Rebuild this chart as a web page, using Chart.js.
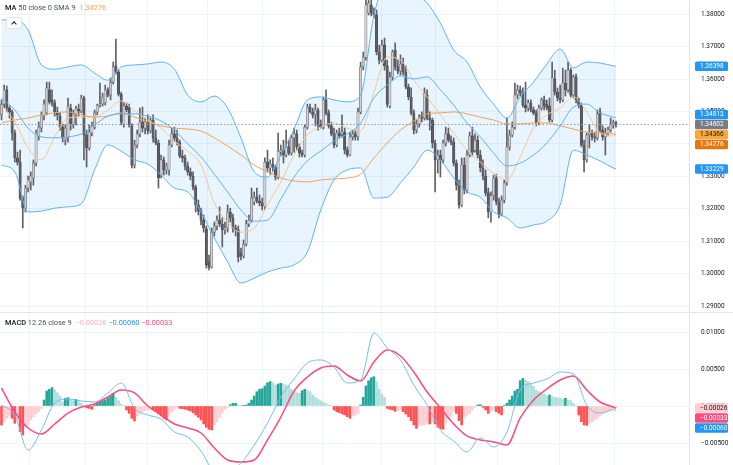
<!DOCTYPE html>
<html><head><meta charset="utf-8">
<script src="https://cdn.jsdelivr.net/npm/chart.js@4.4.1/dist/chart.umd.min.js"></script>
<style>
html,body{margin:0;padding:0;background:#fff;}
#wrap{position:relative;width:733px;height:465px;overflow:hidden;font-family:Roboto,"Liberation Sans",sans-serif;}
#main{position:absolute;left:0;top:0;width:733px;height:312px;}
#macd{position:absolute;left:0;top:313px;width:733px;height:152px;}
#sep{position:absolute;left:0;top:312px;width:733px;height:1px;background:#e0e3eb;}
.leg{position:absolute;left:5px;font-size:7.4px;line-height:10px;color:#4a4d57;white-space:nowrap;}
.leg b{color:#131722;font-weight:500;}
#btn{position:absolute;left:6px;top:17px;width:14px;height:10px;border:1px solid #e0e3eb;border-radius:2px;background:#fff;}
#btn:after{content:"";position:absolute;left:5px;top:4px;width:3px;height:3px;border-left:1px solid #131722;border-top:1px solid #131722;transform:rotate(45deg);}
</style></head>
<body>
<div id="wrap">
  <div id="main"><canvas id="cMain"></canvas></div>
  <div id="sep"></div>
  <div id="macd"><canvas id="cMacd"></canvas></div>
  <div class="leg" style="top:3px"><b>MA</b> 50 close 0 SMA 9 &nbsp;<span style="color:#f4a35a">1.34276</span></div>
  <div id="btn"></div>
  <div class="leg" style="top:318px"><b>MACD</b> 12 26 close 9 &nbsp;<span style="color:#f7b3c2">−0.00026</span> <span style="color:#2196f3">−0.00060</span> <span style="color:#ff4a7d">−0.00033</span></div>
</div>
<script>
// ---------- DATA ----------
const candleOpen = [
1.3490,1.3523,1.3567,1.3511,1.3499,1.3434,1.3357,1.3344,1.3233,1.3202,
1.3264,1.3283,1.3295,1.3341,1.3422,1.3449,1.3486,1.3496,1.3567,1.3536,
1.3527,1.3499,1.3486,1.3452,1.3412,1.3419,1.3511,1.3459,1.3490,1.3508,
1.3502,1.3542,1.3428,1.3388,1.3434,1.3452,1.3499,1.3520,1.3523,1.3527,
1.3567,1.3551,1.3591,1.3641,1.3622,1.3554,1.3462,1.3517,1.3514,1.3456,
1.3335,1.3397,1.3431,1.3468,1.3449,1.3468,1.3440,1.3474,1.3419,1.3403,
1.3304,1.3351,1.3320,1.3320,1.3397,1.3431,1.3419,1.3406,1.3363,1.3357,
1.3332,1.3314,1.3301,1.3267,1.3212,1.3193,1.3165,1.3138,1.3036,1.3020,
1.3128,1.3147,1.3165,1.3153,1.3135,1.3141,1.3190,1.3172,1.3141,1.3135,
1.3064,1.3054,1.3091,1.3153,1.3165,1.3221,1.3236,1.3224,1.3218,1.3206,
1.3344,1.3326,1.3338,1.3329,1.3298,1.3375,1.3381,1.3366,1.3391,1.3372,
1.3419,1.3431,1.3391,1.3372,1.3366,1.3452,1.3514,1.3499,1.3490,1.3505,
1.3459,1.3452,1.3536,1.3496,1.3456,1.3431,1.3397,1.3434,1.3431,1.3437,
1.3381,1.3366,1.3422,1.3431,1.3422,1.3499,1.3638,1.3668,1.3804,1.3829,
1.3804,1.3798,1.3684,1.3659,1.3705,1.3641,1.3517,1.3607,1.3690,1.3638,
1.3625,1.3647,1.3622,1.3576,1.3545,1.3496,1.3443,1.3462,1.3490,1.3480,
1.3551,1.3480,1.3474,1.3403,1.3351,1.3366,1.3351,1.3403,1.3431,1.3412,
1.3406,1.3341,1.3273,1.3212,1.3335,1.3258,1.3366,1.3425,1.3381,1.3412,
1.3366,1.3326,1.3301,1.3249,1.3190,1.3240,1.3295,1.3221,1.3184,1.3227,
1.3280,1.3391,1.3428,1.3452,1.3551,1.3567,1.3557,1.3520,1.3511,1.3527,
1.3505,1.3496,1.3465,1.3511,1.3536,1.3523,1.3517,1.3474,1.3601,1.3560,
1.3542,1.3536,1.3588,1.3567,1.3628,1.3551,1.3607,1.3536,1.3520,1.3397,
1.3351,1.3428,1.3434,1.3422,1.3419,1.3499,1.3443,1.3422,1.3434,1.3443,
1.3462,1.3465];
const candleHigh = [
1.3536,1.3582,1.3579,1.3517,1.3505,1.3443,1.3375,1.3381,1.3240,1.3273,
1.3301,1.3314,1.3351,1.3443,1.3468,1.3499,1.3536,1.3591,1.3591,1.3567,
1.3536,1.3514,1.3496,1.3462,1.3459,1.3542,1.3523,1.3505,1.3517,1.3523,
1.3551,1.3548,1.3443,1.3459,1.3468,1.3505,1.3523,1.3588,1.3557,1.3582,
1.3573,1.3604,1.3653,1.3724,1.3628,1.3560,1.3527,1.3527,1.3523,1.3462,
1.3412,1.3443,1.3511,1.3514,1.3480,1.3490,1.3480,1.3490,1.3443,1.3412,
1.3366,1.3360,1.3341,1.3412,1.3449,1.3452,1.3443,1.3412,1.3381,1.3366,
1.3344,1.3326,1.3314,1.3273,1.3227,1.3202,1.3181,1.3147,1.3057,1.3141,
1.3159,1.3178,1.3206,1.3172,1.3159,1.3212,1.3202,1.3184,1.3150,1.3147,
1.3079,1.3104,1.3165,1.3181,1.3264,1.3252,1.3264,1.3243,1.3233,1.3357,
1.3381,1.3351,1.3357,1.3335,1.3434,1.3397,1.3412,1.3443,1.3412,1.3428,
1.3449,1.3443,1.3400,1.3381,1.3459,1.3523,1.3523,1.3511,1.3523,1.3511,
1.3474,1.3545,1.3567,1.3505,1.3468,1.3449,1.3443,1.3449,1.3490,1.3449,
1.3391,1.3437,1.3443,1.3443,1.3511,1.3653,1.3684,1.3844,1.3844,1.3844,
1.3820,1.3814,1.3705,1.3721,1.3727,1.3659,1.3622,1.3690,1.3712,1.3659,
1.3675,1.3665,1.3641,1.3585,1.3573,1.3505,1.3474,1.3490,1.3499,1.3573,
1.3567,1.3499,1.3480,1.3412,1.3381,1.3381,1.3412,1.3452,1.3449,1.3425,
1.3419,1.3351,1.3289,1.3357,1.3357,1.3381,1.3437,1.3452,1.3431,1.3425,
1.3381,1.3351,1.3320,1.3264,1.3252,1.3304,1.3307,1.3233,1.3240,1.3289,
1.3480,1.3443,1.3468,1.3588,1.3582,1.3579,1.3573,1.3591,1.3536,1.3536,
1.3514,1.3505,1.3520,1.3542,1.3548,1.3536,1.3542,1.3653,1.3628,1.3573,
1.3582,1.3634,1.3628,1.3653,1.3634,1.3613,1.3616,1.3542,1.3527,1.3412,
1.3434,1.3459,1.3443,1.3437,1.3505,1.3511,1.3456,1.3449,1.3452,1.3480,
1.3474,1.3471];
const candleLow = [
1.3474,1.3511,1.3499,1.3480,1.3412,1.3344,1.3335,1.3227,1.3141,1.3190,
1.3252,1.3258,1.3273,1.3332,1.3412,1.3437,1.3474,1.3490,1.3523,1.3517,
1.3486,1.3474,1.3443,1.3406,1.3397,1.3406,1.3443,1.3449,1.3459,1.3486,
1.3496,1.3351,1.3329,1.3381,1.3425,1.3446,1.3490,1.3514,1.3517,1.3520,
1.3545,1.3536,1.3585,1.3616,1.3548,1.3459,1.3452,1.3499,1.3452,1.3326,
1.3326,1.3388,1.3422,1.3437,1.3431,1.3431,1.3434,1.3406,1.3397,1.3264,
1.3295,1.3304,1.3307,1.3304,1.3391,1.3409,1.3397,1.3357,1.3344,1.3320,
1.3304,1.3289,1.3258,1.3190,1.3181,1.3150,1.3128,1.3017,1.3011,1.3017,
1.3116,1.3135,1.3145,1.3082,1.3122,1.3128,1.3159,1.3128,1.3116,1.3036,
1.3042,1.3048,1.3085,1.3145,1.3159,1.3212,1.3218,1.3209,1.3196,1.3199,
1.3314,1.3307,1.3317,1.3289,1.3292,1.3363,1.3341,1.3360,1.3366,1.3366,
1.3375,1.3381,1.3360,1.3360,1.3360,1.3446,1.3496,1.3480,1.3456,1.3443,
1.3449,1.3446,1.3490,1.3449,1.3425,1.3388,1.3391,1.3419,1.3422,1.3369,
1.3360,1.3363,1.3412,1.3412,1.3412,1.3493,1.3628,1.3659,1.3798,1.3795,
1.3789,1.3675,1.3647,1.3653,1.3628,1.3514,1.3511,1.3597,1.3628,1.3616,
1.3613,1.3613,1.3570,1.3536,1.3490,1.3431,1.3434,1.3452,1.3468,1.3474,
1.3474,1.3443,1.3388,1.3252,1.3310,1.3298,1.3341,1.3394,1.3406,1.3397,
1.3332,1.3258,1.3202,1.3206,1.3246,1.3249,1.3360,1.3363,1.3375,1.3357,
1.3314,1.3289,1.3240,1.3172,1.3159,1.3227,1.3212,1.3172,1.3178,1.3218,
1.3273,1.3381,1.3422,1.3446,1.3539,1.3548,1.3514,1.3499,1.3502,1.3499,
1.3490,1.3456,1.3459,1.3505,1.3505,1.3505,1.3468,1.3468,1.3551,1.3533,
1.3527,1.3530,1.3548,1.3560,1.3545,1.3542,1.3527,1.3511,1.3391,1.3314,
1.3344,1.3388,1.3412,1.3406,1.3412,1.3437,1.3412,1.3366,1.3425,1.3437,
1.3449,1.3452];
const candleClose = [
1.3523,1.3567,1.3511,1.3499,1.3434,1.3357,1.3344,1.3233,1.3202,1.3264,
1.3289,1.3301,1.3341,1.3434,1.3452,1.3490,1.3523,1.3573,1.3530,1.3527,
1.3499,1.3490,1.3452,1.3419,1.3449,1.3514,1.3462,1.3493,1.3508,1.3502,
1.3542,1.3428,1.3388,1.3437,1.3456,1.3496,1.3520,1.3523,1.3545,1.3567,
1.3551,1.3591,1.3638,1.3622,1.3554,1.3468,1.3517,1.3505,1.3459,1.3335,
1.3397,1.3431,1.3468,1.3449,1.3468,1.3440,1.3474,1.3419,1.3403,1.3295,
1.3351,1.3320,1.3332,1.3397,1.3431,1.3419,1.3406,1.3363,1.3357,1.3332,
1.3314,1.3301,1.3267,1.3212,1.3193,1.3165,1.3141,1.3027,1.3020,1.3128,
1.3147,1.3165,1.3153,1.3135,1.3141,1.3190,1.3172,1.3141,1.3135,1.3051,
1.3054,1.3091,1.3153,1.3165,1.3233,1.3236,1.3224,1.3218,1.3209,1.3344,
1.3326,1.3338,1.3329,1.3298,1.3378,1.3381,1.3366,1.3391,1.3372,1.3419,
1.3431,1.3391,1.3372,1.3366,1.3452,1.3514,1.3499,1.3490,1.3505,1.3459,
1.3452,1.3536,1.3496,1.3456,1.3431,1.3397,1.3434,1.3425,1.3437,1.3381,
1.3366,1.3422,1.3431,1.3422,1.3499,1.3638,1.3668,1.3829,1.3835,1.3804,
1.3798,1.3684,1.3659,1.3705,1.3641,1.3523,1.3607,1.3684,1.3638,1.3625,
1.3647,1.3622,1.3576,1.3545,1.3496,1.3443,1.3462,1.3480,1.3480,1.3557,
1.3480,1.3474,1.3403,1.3351,1.3366,1.3351,1.3403,1.3431,1.3412,1.3406,
1.3341,1.3273,1.3212,1.3335,1.3258,1.3366,1.3425,1.3375,1.3412,1.3366,
1.3326,1.3301,1.3249,1.3190,1.3240,1.3295,1.3221,1.3184,1.3227,1.3280,
1.3391,1.3428,1.3452,1.3551,1.3567,1.3557,1.3520,1.3511,1.3527,1.3505,
1.3496,1.3465,1.3511,1.3536,1.3517,1.3511,1.3474,1.3604,1.3560,1.3542,
1.3536,1.3588,1.3567,1.3628,1.3551,1.3607,1.3536,1.3520,1.3397,1.3351,
1.3428,1.3434,1.3422,1.3419,1.3493,1.3443,1.3422,1.3434,1.3443,1.3462,
1.3465,1.3460];

// indicator lines, sampled at these candle indices
const lineIdx = [0,5,10,15,20,25,30,35,40,45,50,55,60,65,70,75,80,85,90,95,100,105,110,115,120,125,130,135,140,145,150,155,160,165,170,175,180,185,190,195,200,205,210,215,220,225,230,231];
const bbUpper = [1.3783,1.3783,1.3752,1.3644,1.3631,1.3638,1.3644,1.3619,1.3597,1.3638,
1.3644,1.3647,1.3653,1.3631,1.3551,1.3530,1.3548,1.3511,1.3419,1.3314,
1.3298,1.3366,1.3446,1.3536,1.3545,1.3536,1.3530,1.3551,1.3798,1.3906,
1.3931,1.3869,1.3835,1.3773,1.3690,1.3653,1.3576,1.3523,1.3480,1.3545,
1.3591,1.3647,1.3693,1.3635,1.3653,1.3650,1.3641,1.3640];
const bbBasis = [1.3542,1.3505,1.3449,1.3422,1.3419,1.3422,1.3431,1.3459,1.3486,1.3493,
1.3493,1.3486,1.3471,1.3443,1.3400,1.3360,1.3307,1.3252,1.3196,1.3162,
1.3165,1.3230,1.3298,1.3348,1.3378,1.3409,1.3431,1.3465,1.3542,1.3582,
1.3610,1.3601,1.3607,1.3567,1.3520,1.3465,1.3422,1.3372,1.3332,1.3341,
1.3366,1.3403,1.3456,1.3514,1.3523,1.3496,1.3483,1.3481];
const bbLower = [1.3335,1.3314,1.3190,1.3193,1.3202,1.3206,1.3215,1.3320,1.3397,1.3378,
1.3351,1.3338,1.3304,1.3264,1.3252,1.3190,1.3110,1.3036,1.2971,1.2986,
1.3005,1.3017,1.3027,1.3067,1.3196,1.3289,1.3320,1.3326,1.3233,1.3236,
1.3280,1.3329,1.3381,1.3351,1.3295,1.3252,1.3236,1.3190,1.3172,1.3141,
1.3150,1.3162,1.3212,1.3381,1.3366,1.3348,1.3326,1.3323];
const maSlow = [1.3465,1.3474,1.3480,1.3490,1.3496,1.3499,1.3490,1.3483,1.3486,1.3496,
1.3483,1.3468,1.3456,1.3449,1.3446,1.3440,1.3419,1.3394,1.3366,1.3335,
1.3314,1.3295,1.3286,1.3283,1.3289,1.3292,1.3295,1.3307,1.3357,1.3403,
1.3443,1.3471,1.3493,1.3496,1.3499,1.3493,1.3483,1.3474,1.3462,1.3462,
1.3465,1.3465,1.3456,1.3446,1.3437,1.3434,1.3431,1.3428];
const maFast = [1.3520,1.3468,1.3388,1.3351,1.3422,1.3480,1.3483,1.3483,1.3505,1.3533,
1.3502,1.3474,1.3449,1.3409,1.3378,1.3335,1.3218,1.3159,1.3128,1.3141,
1.3212,1.3283,1.3366,1.3428,1.3452,1.3465,1.3449,1.3440,1.3560,1.3668,
1.3659,1.3597,1.3545,1.3490,1.3434,1.3381,1.3344,1.3310,1.3289,1.3360,
1.3449,1.3490,1.3511,1.3545,1.3499,1.3434,1.3425,1.3437];
const macdLine = [0.00014,-0.00122,-0.00595,-0.00324,0.00041,0.00095,0.00068,0.00054,0.00176,0.00311,
-0.00027,-0.00122,-0.00176,-0.00351,-0.00419,-0.00608,-0.00865,-0.00865,-0.00770,-0.00527,
-0.00230,0.00122,0.00365,0.00581,0.00622,0.00527,0.00311,0.00351,0.00986,0.00784,
0.00622,0.00284,0.00014,-0.00324,-0.00473,-0.00622,-0.00432,-0.00554,-0.00351,0.00216,
0.00311,0.00365,0.00459,0.00432,0.00014,-0.00095,-0.00050,-0.00060];
const signalLine = [0.00243,-0.00081,-0.00297,-0.00378,-0.00243,-0.00095,-0.00014,0.00027,0.00122,0.00216,
0.00176,0.00000,-0.00122,-0.00243,-0.00297,-0.00365,-0.00568,-0.00730,-0.00757,-0.00730,
-0.00459,-0.00149,0.00203,0.00392,0.00514,0.00541,0.00419,0.00338,0.00595,0.00757,
0.00676,0.00459,0.00189,-0.00027,-0.00243,-0.00405,-0.00459,-0.00486,-0.00527,-0.00162,
0.00081,0.00230,0.00351,0.00405,0.00216,0.00054,-0.00014,-0.00033];
const macdHist = [
-0.00257,-0.00212,-0.00167,-0.00135,-0.00167,-0.00234,-0.00189,-0.00347,-0.00392,-0.00279,
-0.00257,-0.00189,-0.00144,-0.00108,-0.00077,-0.00036,0.00081,0.00203,0.00225,0.00248,
0.00216,0.00180,0.00135,0.00059,0.00104,0.00113,0.00081,0.00072,0.00090,0.00059,
0.00036,0.00009,-0.00023,-0.00032,-0.00045,0.00014,0.00045,0.00059,0.00072,0.00081,
0.00104,0.00135,0.00171,0.00117,0.00072,0.00027,0.00009,-0.00054,-0.00099,-0.00167,
-0.00203,-0.00135,-0.00108,-0.00077,-0.00063,-0.00054,-0.00045,-0.00054,-0.00077,-0.00108,
-0.00135,-0.00167,-0.00189,-0.00135,-0.00077,-0.00045,-0.00018,-0.00032,-0.00036,-0.00045,
-0.00054,-0.00068,-0.00090,-0.00122,-0.00153,-0.00189,-0.00243,-0.00288,-0.00315,-0.00324,
-0.00257,-0.00212,-0.00153,-0.00090,-0.00045,-0.00018,0.00018,0.00036,0.00036,0.00014,
0.00005,0.00005,0.00014,0.00036,0.00081,0.00135,0.00194,0.00225,0.00234,0.00270,
0.00315,0.00329,0.00315,0.00284,0.00297,0.00306,0.00297,0.00284,0.00270,0.00225,
0.00198,0.00180,0.00171,0.00207,0.00225,0.00216,0.00194,0.00149,0.00117,0.00090,
0.00072,0.00050,0.00032,0.00014,0.00004,-0.00054,-0.00077,-0.00090,-0.00108,-0.00122,
-0.00144,-0.00167,-0.00135,-0.00122,-0.00099,0.00014,0.00117,0.00270,0.00342,0.00383,
0.00396,0.00329,0.00225,0.00162,0.00117,-0.00032,-0.00045,-0.00054,-0.00072,-0.00063,
-0.00054,-0.00077,-0.00108,-0.00144,-0.00198,-0.00257,-0.00302,-0.00270,-0.00257,-0.00252,
-0.00234,-0.00243,-0.00212,-0.00243,-0.00288,-0.00306,-0.00315,-0.00225,-0.00180,-0.00135,
-0.00077,-0.00099,-0.00198,-0.00257,-0.00153,-0.00126,-0.00099,-0.00054,-0.00018,0.00014,
0.00018,-0.00018,-0.00054,-0.00099,-0.00077,-0.00054,-0.00077,-0.00099,-0.00122,0.00005,
0.00036,0.00081,0.00135,0.00203,0.00225,0.00342,0.00374,0.00351,0.00329,0.00306,
0.00270,0.00216,0.00194,0.00171,0.00162,0.00135,0.00149,0.00126,0.00117,0.00113,
0.00104,0.00090,0.00104,0.00081,0.00072,0.00036,0.00005,-0.00122,-0.00212,-0.00257,
-0.00262,-0.00234,-0.00212,-0.00189,-0.00167,-0.00135,-0.00108,-0.00090,-0.00072,-0.00054,
-0.00045,-0.00026];

const priceTicks = [1.29,1.30,1.31,1.32,1.33,1.34,1.35,1.36,1.37,1.38];
const macdTicks = [-0.005,0,0.005,0.01];
const gridIdx = [10.7,31.4,54.7,77.6,98.3,120.5,142.7,163,186.3,209.6,230.3];
const lastPrice = 1.34602;
const mainLabels = [1.36398,1.34813,1.34602,1.34366,1.34276,1.33229];
const mainLabelBg = ['#2196f3','#2196f3','#787b86','#f9a83a','#e8760e','#2196f3'];
const mainLabelFg = ['#ffffff','#ffffff','#ffffff','#131722','#ffffff','#ffffff'];
const macdLabels = [-0.00026,-0.00033,-0.00060];
const macdLabelBg = ['#ffcdd2','#ff4a7d','#2196f3'];
const macdLabelFg = ['#131722','#ffffff','#ffffff'];

// ---------- RENDER ----------
const N = candleOpen.length;
const idx = Array.from({length:N},(_,i)=>i);
const X_MIN = -0.564, X_MAX = 258.45;
const fmt5 = v => (Math.abs(v) < 1e-12 ? 0 : v).toFixed(5).replace('-', '\u2212');
const pts = arr => lineIdx.map((x,k)=>({x, y:arr[k]}));

function xScale(){
  return {type:'linear', min:X_MIN, max:X_MAX, offset:false,
    ticks:{display:false}, border:{display:false},
    grid:{color:'#f0f3fa', drawTicks:false, offset:false},
    afterBuildTicks: s => { s.ticks = gridIdx.map(v=>({value:v})); }};
}
function yScale(min,max,ticks){
  return {position:'right', min, max,
    ticks:{display:false},
    grid:{color:'#f0f3fa', drawTicks:false},
    border:{display:true, color:'#e0e3eb'},
    afterBuildTicks: s => { s.ticks = ticks.map(v=>({value:v})); },
    afterFit: s => { s.width = 44; }};
}

const overlay = {
  id:'overlay',
  afterDatasetsDraw(chart, args, o){
    if (o.lastLine == null) return;
    const {ctx, chartArea:a} = chart, y = chart.scales.y;
    const py = Math.round(y.getPixelForValue(o.lastLine)) + 0.5;
    ctx.save(); ctx.strokeStyle='#9598a1'; ctx.lineWidth=1; ctx.setLineDash([1.5,2]);
    ctx.beginPath(); ctx.moveTo(a.left,py); ctx.lineTo(a.right,py); ctx.stroke(); ctx.restore();
  },
  afterDraw(chart, args, o){
    const ctx = chart.ctx, y = chart.scales.y;
    ctx.save();
    ctx.font = '6.5px Roboto'; ctx.textBaseline='middle'; ctx.textAlign='left'; ctx.fillStyle='#131722';
    y.ticks.forEach(t => ctx.fillText(fmt5(t.value), 701, y.getPixelForValue(t.value)));
    const vals = o.labels, h = 10;
    const ys = vals.map(v => y.getPixelForValue(v));
    const order = vals.map((_,k)=>k).sort((a,b)=>ys[a]-ys[b]);
    const pos = order.indexOf(o.anchor);
    const out = ys.slice();
    for (let j=pos+1;j<order.length;j++){ const k=order[j], p=order[j-1]; if (out[k] < out[p]+h) out[k] = out[p]+h; }
    for (let j=pos-1;j>=0;j--){ const k=order[j], n=order[j+1]; if (out[k] > out[n]-h) out[k] = out[n]-h; }
    vals.forEach((v,k)=>{
      const cy = out[k];
      ctx.fillStyle = o.bg[k];
      ctx.beginPath();
      if (ctx.roundRect) ctx.roundRect(695, cy-4.75, 33, 9.5, 1.5); else ctx.rect(695, cy-4.75, 33, 9.5);
      ctx.fill();
      ctx.fillStyle = o.fg[k];
      ctx.fillText(fmt5(v), 700, cy+0.3);
    });
    ctx.restore();
  }
};

const isUp = idx.map(i => candleClose[i] >= candleOpen[i]);

new Chart(document.getElementById('cMain'), {
  type:'line',
  data:{ datasets:[
    {type:'line', data:pts(bbUpper), borderColor:'#5fb2f5', borderWidth:1, pointRadius:0, fill:'+2', backgroundColor:'rgba(33,150,243,0.1)', cubicInterpolationMode:'monotone', order:0},
    {type:'line', data:pts(bbBasis), borderColor:'#5fb2f5', borderWidth:1, pointRadius:0, fill:false, cubicInterpolationMode:'monotone', order:0},
    {type:'line', data:pts(bbLower), borderColor:'#5fb2f5', borderWidth:1, pointRadius:0, fill:false, cubicInterpolationMode:'monotone', order:0},
    {type:'line', data:pts(maSlow), borderColor:'#eda35a', borderWidth:1, pointRadius:0, fill:false, cubicInterpolationMode:'monotone', order:0},
    {type:'line', data:pts(maFast), borderColor:'#f5c894', borderWidth:1, pointRadius:0, fill:false, cubicInterpolationMode:'monotone', order:0},
    {type:'bar', data:idx.map(i=>({x:i, y:[candleLow[i], candleHigh[i]]})), backgroundColor:'#5f6068', barThickness:1, grouped:false, borderWidth:0, order:2},
    {type:'bar', data:idx.map(i=>({x:i, y:[candleOpen[i], candleClose[i]]})),
      backgroundColor: idx.map(i=> isUp[i] ? '#d0d0d3' : '#5c5d63'),
      borderColor: idx.map(i=> isUp[i] ? '#6c6d73' : '#48494f'),
      borderWidth:0.6, borderSkipped:false, barThickness:2.4, minBarLength:1, grouped:false, order:1}
  ]},
  options:{
    responsive:true, maintainAspectRatio:false, animation:false, devicePixelRatio:1,
    layout:{padding:0},
    plugins:{legend:{display:false}, tooltip:{enabled:false}, filler:{drawTime:'beforeDatasetsDraw'},
      overlay:{lastLine:lastPrice, labels:mainLabels, bg:mainLabelBg, fg:mainLabelFg, anchor:2}},
    scales:{ x:xScale(), y:yScale(1.28815, 1.38444, priceTicks) }
  },
  plugins:[overlay]
});

const histColor = macdHist.map((v,i)=>{
  const p = i>0 ? macdHist[i-1] : v;
  if (v >= 0) return v >= p ? '#26a69a' : '#b2dfdb';
  return v <= p ? '#ff5252' : '#ffcdd2';
});

new Chart(document.getElementById('cMacd'), {
  type:'line',
  data:{ datasets:[
    {type:'line', data:pts(macdLine), borderColor:'#74bdf5', borderWidth:1, pointRadius:0, fill:false, cubicInterpolationMode:'monotone', order:0},
    {type:'line', data:pts(signalLine), borderColor:'#ff4a7d', borderWidth:1.5, pointRadius:0, fill:false, cubicInterpolationMode:'monotone', order:0},
    {type:'bar', data:idx.map(i=>({x:i, y:macdHist[i]})), backgroundColor:histColor, borderWidth:0, barThickness:2, grouped:false, order:1}
  ]},
  options:{
    responsive:true, maintainAspectRatio:false, animation:false, devicePixelRatio:1,
    layout:{padding:0},
    plugins:{legend:{display:false}, tooltip:{enabled:false},
      overlay:{lastLine:null, labels:macdLabels, bg:macdLabelBg, fg:macdLabelFg, anchor:0}},
    scales:{ x:xScale(), y:yScale(-0.007973, 0.012568, macdTicks) }
  },
  plugins:[overlay]
});
</script>
</body></html>
